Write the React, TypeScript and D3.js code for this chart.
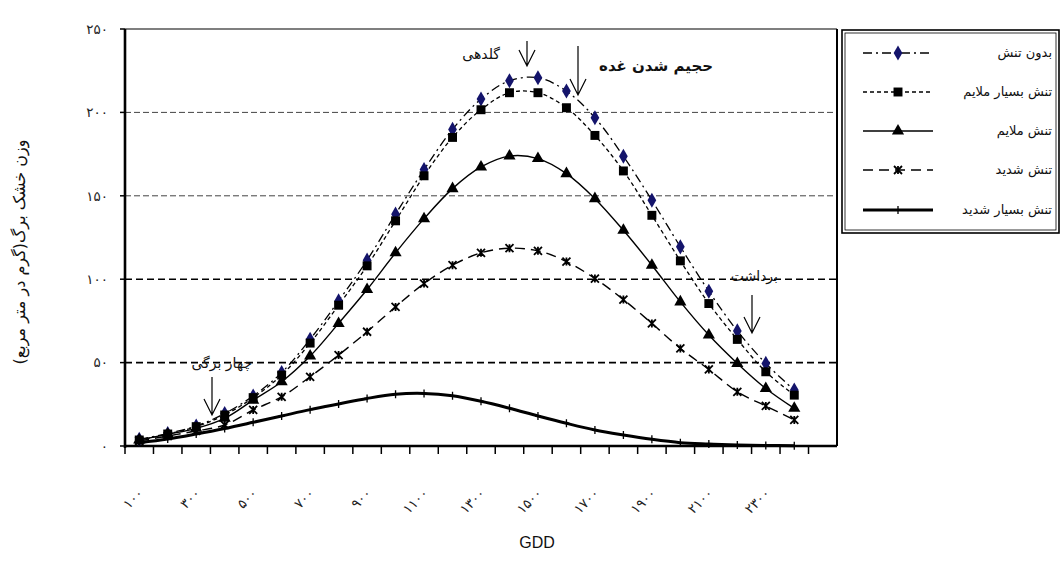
import React from "react";
import * as d3 from "d3";

const W = 1064;
const H = 565;

// categories (GDD)
const gdd = [100, 200, 300, 400, 500, 600, 700, 800, 900, 1000, 1100, 1200, 1300, 1400, 1500, 1600, 1700, 1800, 1900, 2000, 2100, 2200, 2300, 2400, 2500];
const labelledGdd = [100, 300, 500, 700, 900, 1100, 1300, 1500, 1700, 1900, 2100, 2300];
const yTicks = [0, 50, 100, 150, 200, 250];
const gridValues = [50, 100, 150, 200];

// series values (dry leaf weight, g/m2)
const noStress = [4, 7.5, 12, 19.5, 30, 44, 64, 87, 111.4, 139, 165.7, 189.8, 208, 219, 220.8, 212.8, 196.8, 173.7, 147.3, 119.4, 92.8, 69, 49.5, 33.5];
const veryMild = [3.6, 7.2, 11.6, 18.6, 29, 42.5, 61.7, 84.4, 108, 135, 162, 185, 201.6, 211.8, 211.8, 202.8, 186.2, 164.9, 138.3, 111, 85.4, 63.9, 44.5, 30.5];
const mild = [3.6, 7, 10.6, 16.6, 27.5, 38.5, 53.9, 73.5, 93.8, 115.8, 136.3, 154.3, 167.3, 173.8, 172.3, 163.3, 148.3, 129.3, 108.4, 86.4, 66.5, 49.5, 34.5, 22.6];
const severe = [3, 6, 9, 12.6, 21.6, 29.5, 41.5, 54.5, 68.5, 83.4, 97.4, 108.4, 115.8, 118.6, 117, 110.6, 100.4, 87.8, 73.5, 58.5, 45.9, 32.5, 24, 15.6];
const verySevere = [2, 4.2, 7.2, 10.5, 14.2, 18, 21.8, 25.2, 28.5, 31, 31.5, 30.1, 26.8, 22.6, 18, 13.6, 9.6, 6.6, 4, 2, 1.2, 0.6, 0.3, 0.2];

const seriesNames = ["بدون تنش", "تنش بسیار ملایم", "تنش ملایم", "تنش شدید", "تنش بسیار شدید"];
const seriesValues = [noStress, veryMild, mild, severe, verySevere];

const faDigits = (n: number) => String(n).replace(/\d/g, (d) => "۰۱۲۳۴۵۶۷۸۹"[+d]);

const styles = [
  { dash: "9,4,2,4", width: 1.3, marker: "diamond", fill: "#14146b" },
  { dash: "4,3", width: 1.3, marker: "square", fill: "#000" },
  { dash: "", width: 1.4, marker: "triangle", fill: "#000" },
  { dash: "10,6", width: 1.4, marker: "asterisk", fill: "#000" },
  { dash: "", width: 3, marker: "plus", fill: "#000" },
];

function Marker({ kind, x, y, fill }: { kind: string; x: number; y: number; fill: string }) {
  if (kind === "diamond") {
    return <path d={d3.symbol(d3.symbolDiamond, 66)()!} transform={`translate(${x},${y})`} fill={fill} />;
  }
  if (kind === "square") {
    return <path d={d3.symbol(d3.symbolSquare, 80)()!} transform={`translate(${x},${y})`} fill={fill} />;
  }
  if (kind === "triangle") {
    return <path d={d3.symbol(d3.symbolTriangle, 64)()!} transform={`translate(${x},${y})`} fill={fill} />;
  }
  if (kind === "asterisk") {
    const s = 4;
    return (
      <path
        d={`M${x - s},${y - s}L${x + s},${y + s}M${x - s},${y + s}L${x + s},${y - s}M${x},${y - s}L${x},${y + s}`}
        stroke={fill}
        strokeWidth={1.8}
        fill="none"
      />
    );
  }
  const s = 4;
  return <path d={`M${x},${y - s}L${x},${y + s}M${x - 3},${y}L${x + 3},${y}`} stroke={fill} strokeWidth={1.3} fill="none" />;
}

function Arrow({ x, y1, y2 }: { x: number; y1: number; y2: number }) {
  return (
    <path
      d={`M${x},${y1}L${x},${y2}M${x - 8},${y2 - 16}L${x},${y2}L${x + 8},${y2 - 16}`}
      stroke="#000"
      strokeWidth={1.2}
      fill="none"
    />
  );
}

export default function App() {
  const left = 125;
  const right = 837;
  const top = 29;
  const bottom = 446;

  const x = d3.scaleBand<number>().domain(gdd).range([left, right]).paddingInner(0).paddingOuter(0);
  const y = d3.scaleLinear().domain([0, 250]).range([bottom, top]);
  const cx = (v: number) => (x(v) as number) + x.bandwidth() / 2;

  const line = d3
    .line<number>()
    .x((_, i) => cx(gdd[i]))
    .y((d) => y(d))
    .curve(d3.curveCatmullRom.alpha(0.5));

  const persianFont = "'DejaVu Sans', sans-serif";

  const legendX = 842;
  const legendRows = [53, 92, 131, 170, 210];

  return (
    <svg width={W} height={H} style={{ position: "absolute", left: 0, top: 0, background: "#fff" }}>
      <rect x={0} y={0} width={W} height={H} fill="#fff" />

      {/* gridlines */}
      {gridValues.map((v) => (
        <line
          key={v}
          x1={left}
          x2={right}
          y1={y(v)}
          y2={y(v)}
          stroke={v >= 150 ? "#444" : "#000"}
          strokeWidth={v >= 150 ? 1 : 1.6}
          strokeDasharray={v >= 150 ? "6,3" : "7,4"}
        />
      ))}

      {/* frame */}
      <line x1={left} x2={right} y1={top} y2={top} stroke="#000" strokeWidth={1.2} />
      <line x1={right} x2={right} y1={top} y2={bottom} stroke="#000" strokeWidth={2} />
      <line x1={left} x2={left} y1={top} y2={bottom + 2} stroke="#000" strokeWidth={2.6} />
      <line x1={left} x2={right} y1={bottom} y2={bottom} stroke="#000" strokeWidth={2.6} />

      {/* y ticks */}
      {yTicks.map((v) => (
        <g key={v}>
          <line x1={left - 5} x2={left} y1={y(v)} y2={y(v)} stroke="#000" strokeWidth={1.5} />
          <text x={108} y={y(v)} dy="0.35em" textAnchor="end" fontFamily={persianFont} fontSize={13.5} fill="#222">
            {faDigits(v)}
          </text>
        </g>
      ))}

      {/* x ticks */}
      {gdd.map((v) => (
        <line key={v} x1={x(v) as number} x2={x(v) as number} y1={bottom} y2={bottom + 8} stroke="#000" strokeWidth={1.5} />
      ))}
      {labelledGdd.map((v) => (
        <text
          key={v}
          transform={`translate(${cx(v) + 5},${494}) rotate(-45)`}
          textAnchor="end"
          fontFamily={persianFont}
          fontSize={13.5}
          fill="#222"
        >
          {faDigits(v)}
        </text>
      ))}

      {/* axis titles */}
      <text x={537} y={548} textAnchor="middle" fontFamily="'Liberation Sans', Arial, sans-serif" fontSize={16} fill="#111">
        GDD
      </text>
      <text
        transform={`translate(25,252) rotate(-90)`}
        textAnchor="middle"
        direction="rtl"
        fontFamily={persianFont}
        fontSize={16}
        fill="#111"
      >
        وزن خشک برگ(گرم در متر مربع)
      </text>

      {/* series */}
      {seriesValues.map((vals, si) => (
        <path
          key={si}
          d={line(vals)!}
          fill="none"
          stroke="#000"
          strokeWidth={styles[si].width}
          strokeDasharray={styles[si].dash || undefined}
        />
      ))}
      {seriesValues.map((vals, si) => (
        <g key={si}>
          {vals.map((v, i) => (
            <Marker key={i} kind={styles[si].marker} x={cx(gdd[i])} y={y(v)} fill={styles[si].fill} />
          ))}
        </g>
      ))}

      {/* annotations */}
      <text x={500} y={59} textAnchor="start" direction="rtl" fontFamily={persianFont} fontSize={14} fill="#111">
        گلدهی
      </text>
      <Arrow x={527} y1={41} y2={66} />
      <text x={713} y={71} textAnchor="start" direction="rtl" fontFamily={persianFont} fontSize={15} fontWeight="bold" fill="#111">
        حجیم شدن غده
      </text>
      <Arrow x={578} y1={46} y2={95} />
      <text x={252} y={368} textAnchor="start" direction="rtl" fontFamily={persianFont} fontSize={14} fill="#111">
        چهار برگی
      </text>
      <Arrow x={212} y1={377} y2={415} />
      <text x={778} y={281} textAnchor="start" direction="rtl" fontFamily={persianFont} fontSize={14} fill="#111">
        برداشت
      </text>
      <Arrow x={752} y1={295} y2={333} />

      {/* legend */}
      <rect x={legendX} y={30} width={217} height={203} fill="#fff" stroke="#000" strokeWidth={1.6} />
      <rect x={legendX + 3} y={33} width={211} height={197} fill="none" stroke="#000" strokeWidth={0.8} />
      {seriesNames.map((name, si) => (
        <g key={si}>
          <line
            x1={863}
            x2={933}
            y1={legendRows[si]}
            y2={legendRows[si]}
            stroke="#000"
            strokeWidth={styles[si].width}
            strokeDasharray={styles[si].dash || undefined}
          />
          <Marker kind={styles[si].marker} x={898} y={legendRows[si]} fill={styles[si].fill} />
          <text
            x={1052}
            y={legendRows[si]}
            dy="0.3em"
            textAnchor="start"
            direction="rtl"
            fontFamily={persianFont}
            fontSize={13}
            fill="#111"
          >
            {name}
          </text>
        </g>
      ))}
    </svg>
  );
}
